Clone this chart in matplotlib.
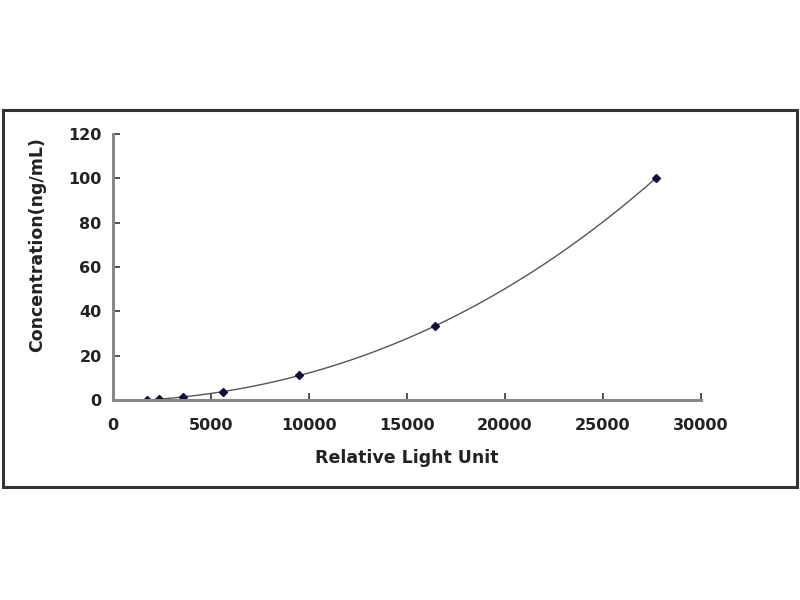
import numpy as np
import matplotlib
matplotlib.use("Agg")
import matplotlib.pyplot as plt
from matplotlib.patches import Rectangle

# standard curve points
light_units = [1730, 2350, 3570, 5610, 9490, 16430, 27700]
concentration = [0.0, 0.41, 1.23, 3.70, 11.11, 33.33, 100.0]

x_ticks = [0, 5000, 10000, 15000, 20000, 25000, 30000]
y_ticks = [0, 20, 40, 60, 80, 100, 120]

plt.rcParams['font.family'] = ['DejaVu Sans']
plt.rcParams['font.weight'] = 'bold'

fig = plt.figure(figsize=(8, 6), dpi=100)
fig.patch.set_facecolor('white')

# outer chart frame
fig.patches.append(Rectangle((0.004, 0.188), 0.992, 0.629, transform=fig.transFigure,
                             fill=False, edgecolor='#333333', linewidth=2.2))

ax = fig.add_axes([0.141, 0.3333, 0.735, 0.4434])

# trend line through the standards
coef = np.polyfit(light_units, concentration, 3)
xs = np.linspace(min(light_units), max(light_units), 200)
ax.plot(xs, np.polyval(coef, xs), color='#555555', linewidth=1.0)
ax.plot(light_units, concentration, linestyle='none', marker='D',
        markersize=4, color='#101040')

ax.set_xlim(0, 30000)
ax.set_ylim(0, 120)
ax.set_xticks(x_ticks)
ax.set_yticks(y_ticks)
ax.set_xticklabels([str(v) for v in x_ticks], fontsize=11.5, fontweight='bold', color='#222222')
ax.set_yticklabels([str(v) for v in y_ticks], fontsize=11.5, fontweight='bold', color='#222222')
ax.tick_params(direction='in', length=5, width=1.2, color='#333333', pad=8)
ax.tick_params(axis='x', pad=13)

for side in ['top', 'right']:
    ax.spines[side].set_visible(False)
for side in ['left', 'bottom']:
    ax.spines[side].set_color('#888888')
    ax.spines[side].set_linewidth(2.2)

ax.set_xlabel('Relative Light Unit', fontsize=12.5, fontweight='bold', color='#222222')
ax.set_ylabel('Concentration(ng/mL)', fontsize=12.5, fontweight='bold', color='#222222')
ax.xaxis.set_label_coords(0.5, -0.185)
ax.yaxis.set_label_coords(-0.114, 0.583)

fig.savefig('out.png', dpi=100)
